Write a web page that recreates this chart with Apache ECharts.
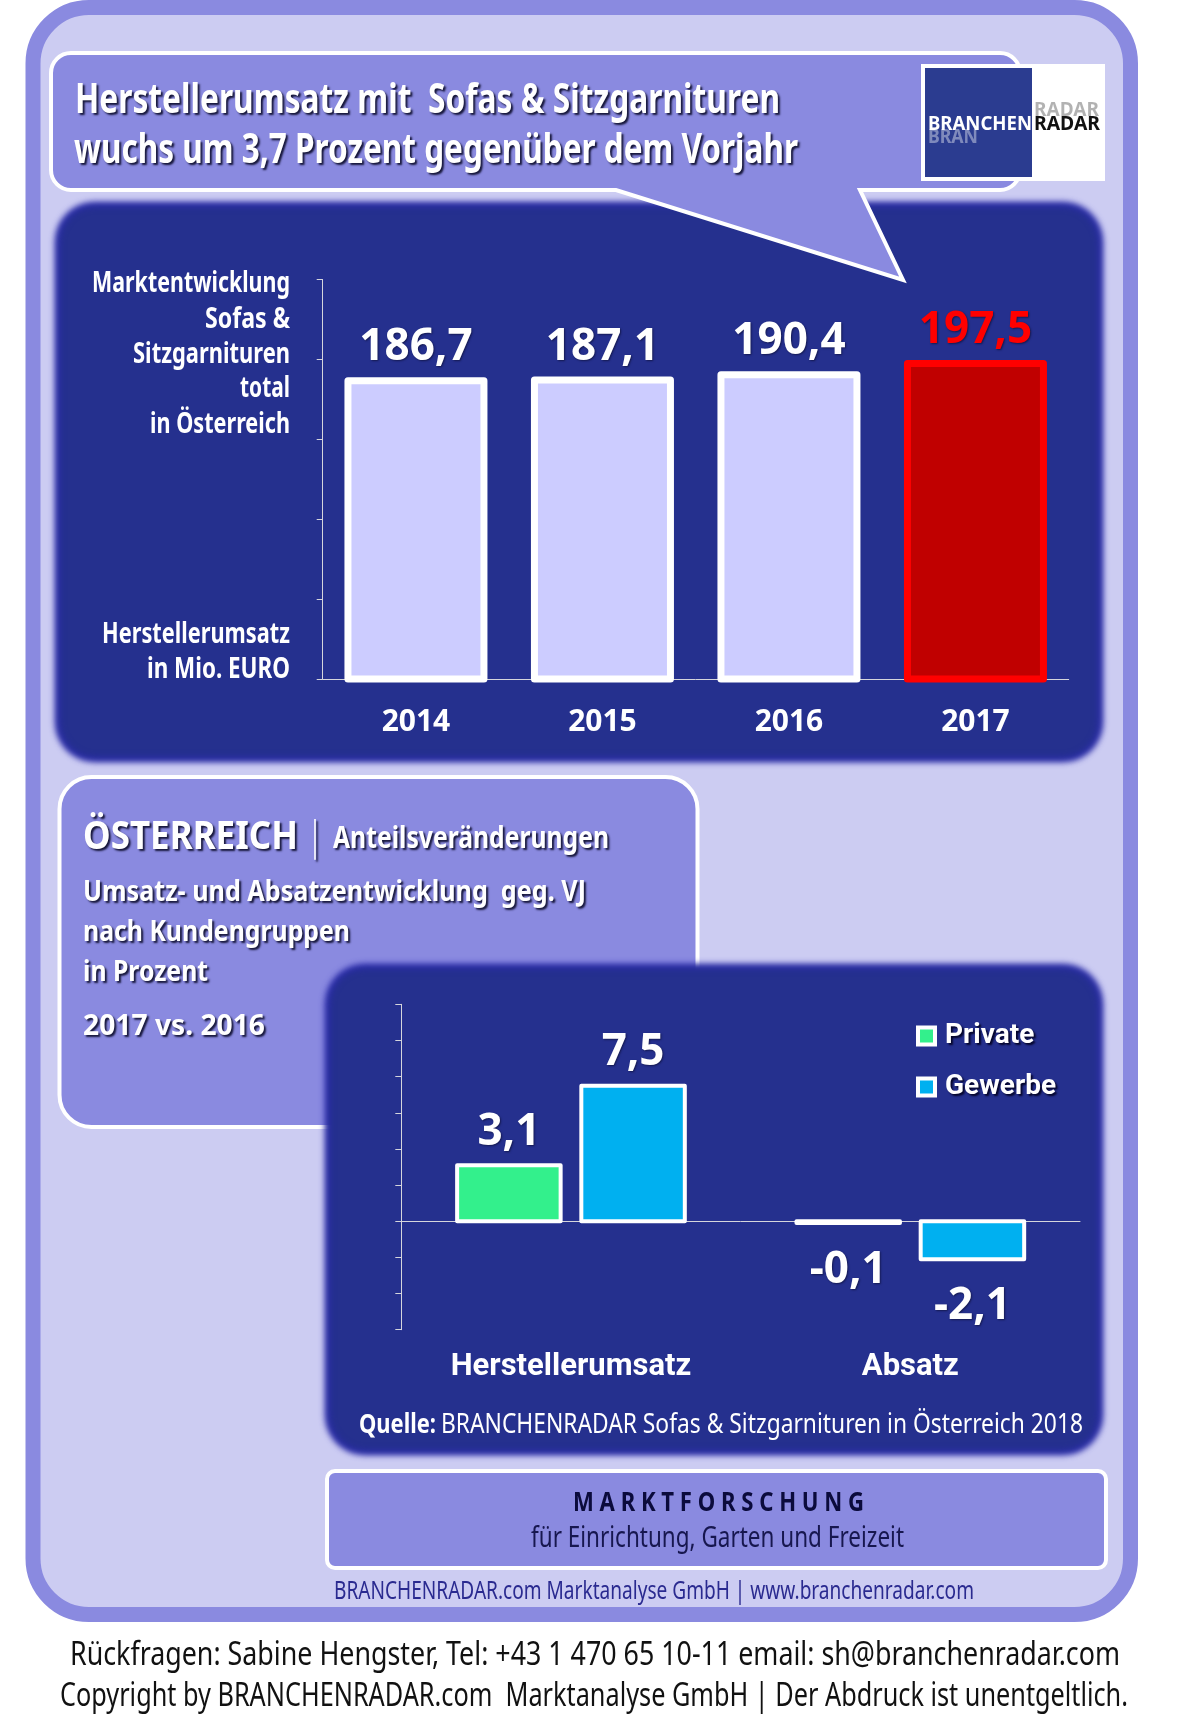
<!DOCTYPE html>
<html>
<head>
<meta charset="utf-8">
<title>Herstellerumsatz Sofas & Sitzgarnituren</title>
<script src="https://cdn.jsdelivr.net/npm/echarts@6/dist/echarts.min.js"></script>
<style>
html,body{margin:0;padding:0;background:#fff}
#chart{width:1178px;height:1733px}
</style>
</head>
<body>
<div id="chart"></div>
<script>
// Marktentwicklung, Mio. EURO
var years = ['2014','2015','2016','2017'];
var marketValues = [186.7,187.1,190.4,197.5];
// Umsatz/Absatz geg. VJ in Prozent
var measures = ['Herstellerumsatz','Absatz'];
var privateValues = [3.1,-0.1];
var gewerbeValues = [7.5,-2.1];

var FRAME = '#8a8ae0', PALE = '#ccccf2', NAVY = '#25308e', EDGE = '#2b2bae';
var FONT = '"Noto Sans"';
var NARROW = 'Roboto';

var ctx = document.createElement('canvas').getContext('2d');

// speech bubble behind the headline
echarts.graphic.registerShape('callout', echarts.graphic.extendShape({
	buildPath:function(c){
		c.moveTo(71,53);
		c.lineTo(1000,53);
		c.arcTo(1020,53,1020,73,20);
		c.lineTo(1020,170);
		c.arcTo(1020,190,1000,190,20);
		c.lineTo(860,190);
		c.lineTo(903,280);
		c.lineTo(616,190);
		c.lineTo(71,190);
		c.arcTo(51,190,51,170,20);
		c.lineTo(51,73);
		c.arcTo(51,53,71,53,20);
		c.closePath();
	}
}));

// text squeezed to the width it has in the picture
function txt(s, x, y, w, size, fill, bold, shadow){
	var font = (bold ? 'bold ' : '') + size + 'px ' + FONT;
	ctx.font = font;
	var st = {text:s, x:0, y:0, font:font, fill:fill, align:'left', verticalAlign:'middle'};
	if (shadow) {
		st.textShadowColor = 'rgba(10,10,40,0.9)';
		st.textShadowOffsetX = 2;
		st.textShadowOffsetY = 2;
		st.textShadowBlur = 2;
	}
	return {type:'text', x:x, y:y, scaleX:w/ctx.measureText(s).width, style:st};
}
function box(x, y, w, h, r, fill, stroke, lw){
	return {type:'rect', shape:{x:x,y:y,width:w,height:h,r:r}, style:{fill:fill, stroke:stroke||null, lineWidth:lw||0}};
}
// only the blurred shadow of an off-canvas rect is seen, that gives the soft edge
function softBox(x, y, w, h, r, color, blur){
	var b = box(x-3000, y, w, h, r, color);
	b.style.shadowBlur = blur;
	b.style.shadowColor = color;
	b.style.shadowOffsetX = 3000;
	return b;
}
function panel(x, y, w, h){
	return [
		softBox(x+3, y+3, w-6, h-6, 40, EDGE, 6),
		softBox(x+7, y+7, w-14, h-14, 36, NAVY, 7)
	];
}
function right(s, r, y, w){
	return txt(s, r-w, y, w, 28, '#fff', true);
}

var elements = [box(33, 7.5, 1097.5, 1607, 56, PALE, FRAME, 15)].concat(
	panel(52, 199, 1054, 566),
	[
	{type:'callout', style:{fill:FRAME, stroke:'#fff', lineWidth:4, lineJoin:'miter'}},
	txt('Herstellerumsatz mit  Sofas & Sitzgarnituren', 75, 101, 705, 41, '#fff', true, true),
	txt('wuchs um 3,7 Prozent gegenüber dem Vorjahr', 74, 151, 724, 41, '#fff', true, true),
	box(921, 64, 184, 117, 0, '#fff'),
	box(925, 68, 107, 109, 0, '#2b3c90'),
	txt('BRAN', 928, 138, 50, 19, 'rgba(255,255,255,0.4)', true),
	txt('RADAR', 1034, 111, 65, 19, 'rgba(0,0,0,0.3)', true),
	txt('BRANCHEN', 928, 125, 104, 19, '#fff', true),
	txt('RADAR', 1034, 125, 66, 19, '#111', true),
	right('Marktentwicklung', 290, 284, 198),
	right('Sofas &', 290, 320, 85),
	right('Sitzgarnituren', 290, 355, 157),
	right('total', 290, 389, 50),
	right('in Österreich', 290, 425, 140),
	right('Herstellerumsatz', 290, 635, 188),
	right('in Mio. EURO', 290, 670, 143),
	box(59.5, 777, 638, 350, 32, FRAME, '#fff', 4),
	txt('ÖSTERREICH', 83, 838, 215, 39, '#fff', true, true),
	txt('|', 311, 838, 8, 42, '#fff', true, true),
	txt('Anteilsveränderungen', 333, 839, 276, 30, '#fff', true, true),
	txt('Umsatz- und Absatzentwicklung  geg. VJ', 83, 893, 503, 29, '#fff', true, true),
	txt('nach Kundengruppen', 83, 933, 267, 29, '#fff', true, true),
	txt('in Prozent', 83, 973, 125, 29, '#fff', true, true),
	txt('2017 vs. 2016', 83, 1027, 182, 29, '#fff', true, true)
	],
	panel(322, 961, 784, 497),
	[
	txt('Quelle:', 359, 1425, 77, 27, '#fff', true),
	txt('BRANCHENRADAR Sofas & Sitzgarnituren in Österreich 2018', 441, 1425, 642, 27, '#fff', false),
	box(327, 1471, 779, 97, 8, FRAME, '#fff', 4),
	txt('M A R K T F O R S C H U N G', 573, 1503, 291, 27, '#0b0b3c', true),
	txt('für Einrichtung, Garten und Freizeit', 531, 1539, 373, 29, '#17174f', false),
	txt('BRANCHENRADAR.com Marktanalyse GmbH | www.branchenradar.com', 334, 1592, 640, 25, '#2a2a90', false),
	txt('Rückfragen: Sabine Hengster, Tel: +43 1 470 65 10-11 email: sh@branchenradar.com', 70, 1656, 1050, 33, '#111', false),
	txt('Copyright by BRANCHENRADAR.com  Marktanalyse GmbH | Der Abdruck ist unentgeltlich.', 60, 1697, 1068, 33, '#111', false)
	]
);

var axisLine = {show:true, onZero:true, lineStyle:{color:'#d5d5dc', width:1}};
var valueLabel = {
	show:true,
	fontFamily:FONT,
	fontWeight:'bold',
	fontSize:44,
	color:'#fff',
	textShadowColor:'rgba(10,10,40,0.6)',
	textShadowOffsetX:1,
	textShadowOffsetY:1,
	textShadowBlur:2,
	position:'top',
	distance:11,
	formatter:function(p){ return String(p.value).replace('.',','); }
};

var marketData = marketValues.map(function(v,i){
	if (i == marketValues.length-1) {
		return {value:v, itemStyle:{color:'#c00000'}, label:{color:'#ff0000'}};
	}
	return v;
});

// negative bars carry their number underneath
function signedData(values){
	return values.map(function(v){
		return v < 0 ? {value:v, label:{position:'bottom', distance:25}} : v;
	});
}

// bar series insets its border, the picture has it centred on the bar edge: so the frames are drawn on top
function outlineSeries(name, axisIndex, values, width, lineWidth, shift, colors){
	return {
		name:name,
		type:'custom',
		z:3,
		xAxisIndex:axisIndex,
		yAxisIndex:axisIndex,
		silent:true,
		encode:{x:0, y:1},
		data:values.map(function(v,i){ return [i,v]; }),
		renderItem:function(params, api){
			var top = api.coord([api.value(0), api.value(1)]);
			var base = api.coord([api.value(0), 0]);
			return {
				type:'rect',
				shape:{
					x:top[0] + shift - width/2,
					y:Math.min(top[1], base[1]),
					width:width,
					height:Math.abs(base[1] - top[1])
				},
				style:{fill:'none', stroke:colors[params.dataIndex], lineWidth:lineWidth, lineJoin:'round'}
			};
		}
	};
}

var my_chart = echarts.init(document.getElementById('chart'), null, {renderer:'canvas'});
my_chart.setOption({
	animation:false,
	backgroundColor:'#fff',
	graphic:{elements:elements},
	legend:{
		data:[
			{name:'Private', itemStyle:{borderColor:'#fff', borderWidth:4}},
			{name:'Gewerbe', itemStyle:{borderColor:'#fff', borderWidth:4}}
		],
		orient:'vertical',
		icon:'rect',
		left:911,
		top:1017,
		itemWidth:17,
		itemHeight:17,
		itemGap:23,
		textStyle:{
			fontFamily:NARROW,
			fontWeight:'bold',
			fontSize:28,
			color:'#fff',
			padding:[0,0,0,5],
			textShadowColor:'#05052a',
			textShadowOffsetX:2,
			textShadowOffsetY:2,
			textShadowBlur:2
		}
	},
	grid:[
		{left:322.7, top:279.5, width:746, height:399.5},
		{left:401.3, top:1004.3, width:678.7, height:325.4}
	],
	xAxis:[
		{
			type:'category',
			gridIndex:0,
			data:years,
			axisLine:axisLine,
			axisTick:{show:false},
			axisLabel:{color:'#fff', fontFamily:FONT, fontWeight:'bold', fontSize:30, margin:28}
		},
		{
			type:'category',
			gridIndex:1,
			data:measures,
			axisLine:axisLine,
			axisTick:{show:false},
			axisLabel:{color:'#fff', fontFamily:NARROW, fontWeight:'bold', fontSize:31, margin:22}
		}
	],
	yAxis:[
		{
			type:'value',
			gridIndex:0,
			min:0,
			max:250,
			interval:50,
			axisLine:axisLine,
			axisTick:{show:true, length:6, lineStyle:{color:'#d5d5dc', width:1}},
			axisLabel:{show:false},
			splitLine:{show:false}
		},
		{
			type:'value',
			gridIndex:1,
			min:-6,
			max:12,
			interval:2,
			axisLine:axisLine,
			axisTick:{show:true, length:6, lineStyle:{color:'#d5d5dc', width:1}},
			axisLabel:{show:false},
			splitLine:{show:false}
		}
	],
	series:[
		{
			name:'Marktentwicklung',
			type:'bar',
			xAxisIndex:0,
			yAxisIndex:0,
			barWidth:136,
			data:marketData,
			itemStyle:{color:'#ccccff'},
			label:valueLabel
		},
		{
			name:'Private',
			type:'bar',
			xAxisIndex:1,
			yAxisIndex:1,
			barWidth:103.5,
			barGap:'20%',
			data:signedData(privateValues),
			itemStyle:{color:'#33f08c'},
			label:valueLabel
		},
		{
			name:'Gewerbe',
			type:'bar',
			xAxisIndex:1,
			yAxisIndex:1,
			barWidth:103.5,
			barGap:'20%',
			data:signedData(gewerbeValues),
			itemStyle:{color:'#00b0f0'},
			label:valueLabel
		},
		outlineSeries('Rahmen Markt', 0, marketValues, 136, 7, 0, ['#fff','#fff','#fff','#ff0000']),
		outlineSeries('Rahmen Private', 1, privateValues, 103.5, 4, -62.1, ['#fff','#fff']),
		outlineSeries('Rahmen Gewerbe', 1, gewerbeValues, 103.5, 4, 62.1, ['#fff','#fff'])
	]
});
</script>
</body>
</html>
